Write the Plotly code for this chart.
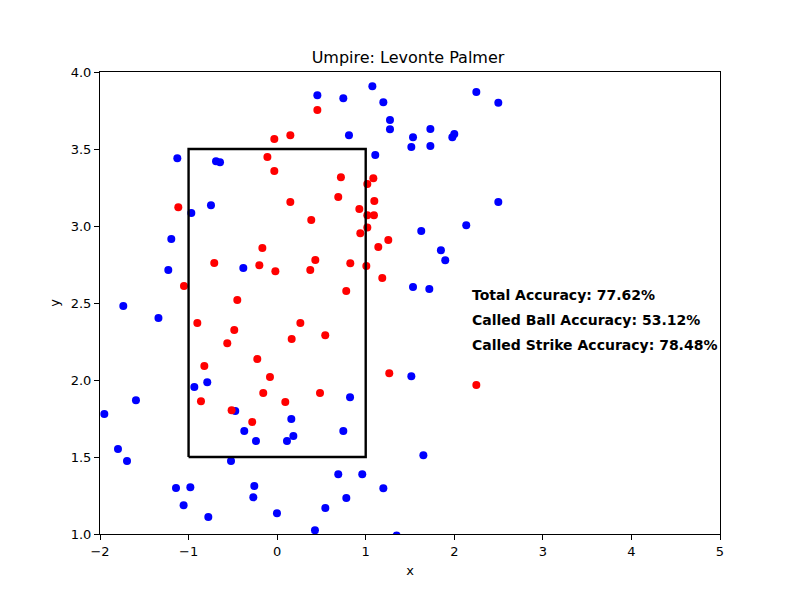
import plotly.graph_objects as go

# called pitches (plate_x, plate_z)
red_x = [-0.032, 0.149, -0.11, -0.032, 0.149, -1.116, -0.167, -0.71, -0.201, -0.02,
         -1.052, -0.45, 0.454, 0.72, 1.086, 1.018, 0.69, 1.097, 0.928, 1.018,
         1.093, 1.018, 0.939, 0.385, 1.255, 1.142, 0.431, 0.374, 0.826, 1.007,
         1.187, 0.78, -0.901, -0.484, -0.563, 0.164, -0.224, -0.822, -0.081, -0.157,
         -0.86, 0.092, -0.514, -0.281, 0.262, 0.543, 1.266, 2.249, 0.484]
red_y = [3.565, 3.59, 3.448, 3.357, 3.156, 3.121, 2.857, 2.76, 2.745, 2.706,
         2.61, 2.52, 3.753, 3.316, 3.31, 3.273, 3.188, 3.162, 3.11, 3.069,
         3.069, 2.99, 2.953, 3.039, 2.909, 2.864, 2.779, 2.714, 2.758, 2.74,
         2.662, 2.578, 2.37, 2.325, 2.238, 2.266, 2.136, 2.091, 2.019, 1.916,
         1.862, 1.857, 1.803, 1.727, 2.37, 2.29, 2.044, 1.967, 1.916]

blue_x = [-1.127, -0.69, -0.645, -0.969, -0.747, -1.195, -0.382, -1.229, -1.737, 0.454,
          0.747, 1.075, 1.199, 1.274, 1.274, 0.811, 1.534, 1.515, 1.73, 1.73,
          1.978, 2.0, 2.249, 2.497, 1.108, 1.627, 2.135, 2.497, 1.849, 1.898,
          1.534, 1.718, -1.34, -0.935, -0.789, -1.594, -1.951, -0.473, 0.16, -0.371,
          -0.239, 0.111, 0.183, -1.797, -1.695, -0.521, -1.142, -0.98, -1.056, -0.777,
          -0.258, -0.269, -0.002, 1.515, 0.823, 0.747, 1.651, 0.69, 0.961, 1.199,
          0.781, 0.544, 0.427, 1.349]
blue_y = [3.44, 3.42, 3.414, 3.084, 3.134, 2.916, 2.727, 2.714, 2.48, 3.849,
          3.829, 3.907, 3.803, 3.688, 3.628, 3.589, 3.576, 3.513, 3.63, 3.52,
          3.576, 3.597, 3.87, 3.80, 3.461, 2.968, 3.005, 3.156, 2.842, 2.777,
          2.604, 2.591, 2.403, 1.955, 1.985, 1.868, 1.779, 1.799, 1.747, 1.669,
          1.604, 1.604, 1.636, 1.552, 1.474, 1.474, 1.299, 1.303, 1.186, 1.11,
          1.312, 1.238, 1.134, 2.024, 1.888, 1.669, 1.511, 1.388, 1.388, 1.297,
          1.234, 1.169, 1.024, 0.99]

zone_x = [-1, 1, 1, -1, -1]
zone_y = [1.5, 1.5, 3.5, 3.5, 1.5]

umpire = "Levonte Palmer"
stats = ["Total Accuracy: 77.62%",
         "Called Ball Accuracy: 53.12%",
         "Called Strike Accuracy: 78.48%"]
stats_y = [2.55, 2.39, 2.23]

fig = go.Figure()

fig.add_trace(go.Scatter(x=blue_x, y=blue_y, mode='markers',
                         marker=dict(color='#0000ff', size=8), showlegend=False))
fig.add_trace(go.Scatter(x=red_x, y=red_y, mode='markers',
                         marker=dict(color='#ff0000', size=8), showlegend=False))
fig.add_trace(go.Scatter(x=zone_x, y=zone_y, mode='lines',
                         line=dict(color='black', width=2.4), showlegend=False))

for txt, yy in zip(stats, stats_y):
    fig.add_annotation(x=2.2, y=yy, text="<b>" + txt + "</b>", showarrow=False,
                       xanchor='left', yanchor='middle', xshift=-2,
                       font=dict(size=14, color='black', family='DejaVu Sans'))

axis_style = dict(showline=True, linecolor='black', linewidth=1, mirror=True,
                  ticks='outside', ticklen=5, tickcolor='black', showgrid=False,
                  zeroline=False, tickfont=dict(size=13, color='black'))

# page body adds an 8px offset, so margins are trimmed on the left/top
fig.update_layout(
    width=800, height=600,
    title=dict(text="Umpire: " + umpire, x=0.5, xanchor='center', y=0.917, yanchor='middle',
               font=dict(size=16, color='black')),
    font=dict(family='DejaVu Sans', color='black'),
    plot_bgcolor='white', paper_bgcolor='white',
    margin=dict(l=92, r=88, t=64, b=74),
    xaxis=dict(range=[-2, 5], dtick=1, title=dict(text='x', font=dict(size=13), standoff=8), **axis_style),
    yaxis=dict(range=[1, 4], dtick=0.5, tickformat='.1f',
               title=dict(text='y', font=dict(size=13), standoff=8), **axis_style),
)

fig.write_html("out.html")
